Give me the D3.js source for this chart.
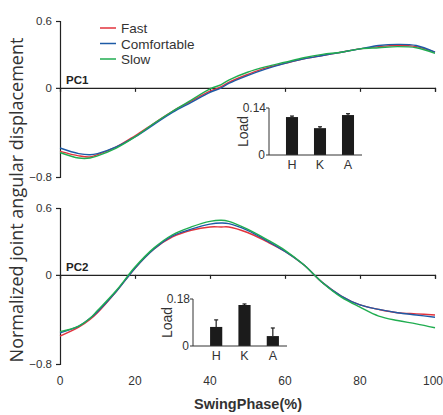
<!DOCTYPE html>
<html><head><meta charset="utf-8">
<script src="https://cdn.jsdelivr.net/npm/d3@7"></script>
<style>body{margin:0;background:#fff}svg{display:block}</style>
</head><body>
<svg id="c" width="443" height="415"></svg>
<script>
const phase = [0,5,8,10,15,20,25,30,35,40,43,45,50,55,60,65,70,75,80,85,90,95,100];
const pc1Fast = [-0.57,-0.61,-0.62,-0.60,-0.53,-0.43,-0.32,-0.21,-0.12,-0.03,0.01,0.05,0.12,0.18,0.22,0.26,0.29,0.32,0.35,0.37,0.38,0.37,0.32];
const pc1Comf = [-0.54,-0.59,-0.60,-0.59,-0.53,-0.44,-0.33,-0.22,-0.13,-0.04,0.00,0.04,0.11,0.17,0.22,0.26,0.29,0.32,0.35,0.38,0.39,0.38,0.32];
const pc1Slow = [-0.58,-0.63,-0.63,-0.61,-0.54,-0.44,-0.32,-0.21,-0.11,-0.01,0.03,0.07,0.14,0.19,0.23,0.27,0.30,0.32,0.35,0.36,0.37,0.36,0.31];
const pc2Fast = [-0.55,-0.47,-0.40,-0.34,-0.15,0.06,0.23,0.34,0.40,0.43,0.43,0.43,0.38,0.30,0.21,0.09,-0.07,-0.19,-0.27,-0.31,-0.34,-0.35,-0.36];
const pc2Comf = [-0.52,-0.46,-0.39,-0.33,-0.15,0.06,0.23,0.35,0.41,0.455,0.465,0.46,0.40,0.31,0.21,0.09,-0.07,-0.19,-0.27,-0.31,-0.34,-0.36,-0.38];
const pc2Slow = [-0.51,-0.46,-0.39,-0.32,-0.14,0.07,0.24,0.36,0.43,0.48,0.49,0.48,0.41,0.32,0.22,0.09,-0.07,-0.20,-0.29,-0.37,-0.41,-0.44,-0.475];
const seriesNames = ["Fast","Comfortable","Slow"];
const seriesColors = ["#e2333c","#1d5ba6","#20ad50"];
const joints = ["H","K","A"];
const load1 = [0.113,0.080,0.119];
const load1Err = [0.003,0.004,0.004];
const load2 = [0.073,0.157,0.038];
const load2Err = [0.027,0.004,0.031];
const xTicks = [0,20,40,60,80,100];
const yTicks = [0.6,0,-0.8];

const svg = d3.select("#c");
const x = d3.scaleLinear().domain([0,100]).range([60,435]);
const font = "Liberation Sans, Arial, sans-serif";

function panel(top, data, label, showX) {
  const y = d3.scaleLinear().domain([-0.8,0.6]).range([top+156, top]);
  const g = svg.append("g");
  const ya = g.append("g").attr("transform","translate(60,0)")
    .call(d3.axisLeft(y).tickValues(yTicks).tickSize(4).tickFormat(d=> d===0?"0":d3.format(".1f")(d)));
  ya.select(".domain").attr("stroke","#222").attr("stroke-width",1.2);
  ya.selectAll(".tick line").attr("stroke","#222").attr("stroke-width",1.2);
  ya.selectAll("text").attr("font-family",font).attr("font-size",11.5).attr("fill","#333").attr("x",-8);
  const xa = g.append("g").attr("transform",`translate(0,${y(0)})`)
    .call(d3.axisBottom(x).tickValues(xTicks).tickSize(4).tickSizeOuter(4).tickFormat(""));
  xa.select(".domain").attr("stroke","#222").attr("stroke-width",1.2);
  xa.selectAll(".tick line").attr("stroke","#222").attr("stroke-width",1.2);
  const line = d3.line().x((d,i)=>x(phase[i])).y(d=>y(d)).curve(d3.curveCatmullRom.alpha(0.5));
  data.forEach((s,k)=>{
    g.append("path").attr("d",line(s)).attr("fill","none")
      .attr("stroke",seriesColors[k]).attr("stroke-width",1.4);
  });
  g.append("text").attr("x",66).attr("y",y(0)-4).text(label)
    .attr("font-family",font).attr("font-size",11.5).attr("font-weight","bold").attr("fill","#222");
  if (showX) {
    g.append("g").selectAll("text").data(xTicks).join("text")
      .attr("x",d=> d===100 ? 443 : x(d)).attr("y",top+177)
      .attr("text-anchor",d=> d===100 ? "end" : "middle")
      .attr("font-family",font).attr("font-size",12).attr("fill","#333").text(d=>d);
  }
  return y;
}

panel(21,[pc1Fast,pc1Comf,pc1Slow],"PC1",false);
panel(208,[pc2Fast,pc2Comf,pc2Slow],"PC2",true);

function inset(x0, x1, yTop, yBot, maxV, vals, errs, maxLabel) {
  const g = svg.append("g");
  const yb = d3.scaleLinear().domain([0,maxV]).range([yBot,yTop]);
  const xb = d3.scaleBand().domain(joints).range([x0+9, x1]).paddingInner(0.57).paddingOuter(0.285);
  g.selectAll("rect").data(vals).join("rect")
    .attr("x",(d,i)=>xb(joints[i])).attr("width",xb.bandwidth())
    .attr("y",d=>yb(d)).attr("height",d=>yb(0)-yb(d)).attr("fill","#1b1b1b");
  g.selectAll("line.err").data(vals).join("line").attr("class","err")
    .attr("x1",(d,i)=>xb(joints[i])+xb.bandwidth()/2).attr("x2",(d,i)=>xb(joints[i])+xb.bandwidth()/2)
    .attr("y1",d=>yb(d)).attr("y2",(d,i)=>yb(d+errs[i])).attr("stroke","#1b1b1b").attr("stroke-width",1.2);
  g.selectAll("line.cap").data(vals).join("line").attr("class","cap")
    .attr("x1",(d,i)=>xb(joints[i])+xb.bandwidth()/2-2).attr("x2",(d,i)=>xb(joints[i])+xb.bandwidth()/2+2)
    .attr("y1",(d,i)=>yb(d+errs[i])).attr("y2",(d,i)=>yb(d+errs[i])).attr("stroke","#1b1b1b").attr("stroke-width",1.2);
  g.append("line").attr("x1",x0).attr("x2",x0).attr("y1",yTop).attr("y2",yBot).attr("stroke","#333").attr("stroke-width",1);
  g.append("line").attr("x1",x0).attr("x2",x1).attr("y1",yBot).attr("y2",yBot).attr("stroke","#333").attr("stroke-width",1);
  g.append("line").attr("x1",x0-3).attr("x2",x0).attr("y1",yTop).attr("y2",yTop).attr("stroke","#333");
  g.append("line").attr("x1",x0-3).attr("x2",x0).attr("y1",yBot).attr("y2",yBot).attr("stroke","#333");
  g.append("text").attr("x",x0-3).attr("y",yTop+4).attr("text-anchor","end").text(maxLabel)
    .attr("font-family",font).attr("font-size",12).attr("fill","#333");
  g.append("text").attr("x",x0-4).attr("y",yBot+4).attr("text-anchor","end").text("0")
    .attr("font-family",font).attr("font-size",12).attr("fill","#333");
  g.append("text").attr("transform",`translate(${x0-21},${(yTop+yBot)/2}) rotate(-90)`)
    .attr("text-anchor","middle").text("Load")
    .attr("font-family",font).attr("font-size",14).attr("fill","#333");
  g.selectAll("text.j").data(joints).join("text").attr("class","j")
    .attr("x",d=>xb(d)+xb.bandwidth()/2).attr("y",yBot+14).attr("text-anchor","middle")
    .attr("font-family",font).attr("font-size",12.5).attr("fill","#333").text(d=>d);
}
inset(269, 362, 108, 155, 0.14, load1, load1Err, "0.14");
inset(193, 287, 299, 346, 0.18, load2, load2Err, "0.18");

const lg = svg.append("g");
seriesNames.forEach((n,i)=>{
  const yy = 28 + i*15.5;
  lg.append("line").attr("x1",100).attr("x2",116).attr("y1",yy).attr("y2",yy)
    .attr("stroke",seriesColors[i]).attr("stroke-width",1.5);
  lg.append("text").attr("x",121).attr("y",yy+5).text(n)
    .attr("font-family",font).attr("font-size",13.5).attr("fill","#333");
});

svg.append("text").attr("transform","translate(23,200) rotate(-90)").attr("text-anchor","middle")
  .text("Normalized joint angular displacement")
  .attr("font-family","Open Sans, sans-serif").attr("font-size",18).attr("fill","#333");
svg.append("text").attr("x",248).attr("y",409).attr("text-anchor","middle")
  .text("SwingPhase(%)").attr("font-family",font).attr("font-size",14.5).attr("font-weight","bold").attr("fill","#333");
</script>
</body></html>
